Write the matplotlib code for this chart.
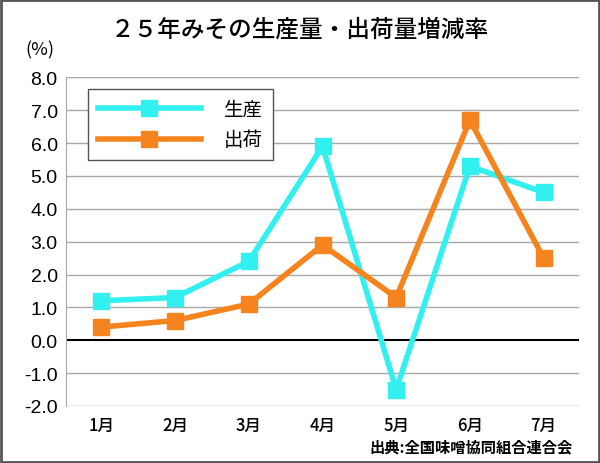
import matplotlib
matplotlib.use("Agg")
import matplotlib.pyplot as plt
from matplotlib.patches import Rectangle

plt.rcParams['font.family'] = ['Noto Sans CJK JP', 'DejaVu Sans']

# data
months = ['1月', '2月', '3月', '4月', '5月', '6月', '7月']
production = [1.2, 1.3, 2.4, 5.9, -1.5, 5.3, 4.5]
shipment = [0.4, 0.6, 1.1, 2.9, 1.3, 6.7, 2.5]
y_ticks = [-2.0, -1.0, 0.0, 1.0, 2.0, 3.0, 4.0, 5.0, 6.0, 7.0, 8.0]

cyan = '#33F0F0'
orange = '#F5841F'

fig = plt.figure(figsize=(6, 4.64), dpi=100)
ax = fig.add_axes([0.11, 0.123, 0.855, 0.708])

x = range(len(months))
ax.plot(x, production, color=cyan, lw=4, marker='s', ms=11, label='生産', zorder=3)
ax.plot(x, shipment, color=orange, lw=4, marker='s', ms=11, label='出荷', zorder=3)

ax.set_xlim(-0.48, len(months) - 0.52)
ax.set_ylim(-2, 8)
ax.set_yticks(y_ticks)
ax.set_yticklabels([f'{v:.1f}' for v in y_ticks], fontsize=14,
                   family=['Liberation Sans', 'DejaVu Sans'])
ax.set_xticks(list(x))
ax.set_xticklabels(months, fontsize=12, fontweight='medium')
ax.tick_params(length=0, pad=7)
ax.tick_params(axis='y', pad=6)

for v in y_ticks:
    if v != 0:
        ax.axhline(v, color='#a8a8a8', lw=1, zorder=1)
ax.axhline(0, color='black', lw=1.5, zorder=2)

for side in ['top', 'right', 'bottom']:
    ax.spines[side].set_visible(False)
ax.spines['left'].set_color('#a8a8a8')

leg = ax.legend(loc='upper left', bbox_to_anchor=(0.043, 0.965), fontsize=14,
                handlelength=5.3, handletextpad=1.2, borderpad=0.5,
                labelspacing=0.5, fancybox=False, edgecolor='#555555',
                framealpha=1, borderaxespad=0)
leg.get_frame().set_linewidth(1)

fig.text(0.5, 0.935, '２５年みその生産量・出荷量増減率', ha='center', va='center',
         fontsize=17, fontweight='medium')
fig.text(0.043, 0.892, '(%)', ha='left', va='center', fontsize=13)
fig.text(0.955, 0.035, '出典:全国味噌協同組合連合会', ha='right', va='center',
         fontsize=11, fontweight='bold')

fig.patches.append(Rectangle((0.002, 0.002), 0.996, 0.996, transform=fig.transFigure,
                             fill=False, edgecolor='#555555', lw=2))

fig.savefig('out.png', dpi=100)
